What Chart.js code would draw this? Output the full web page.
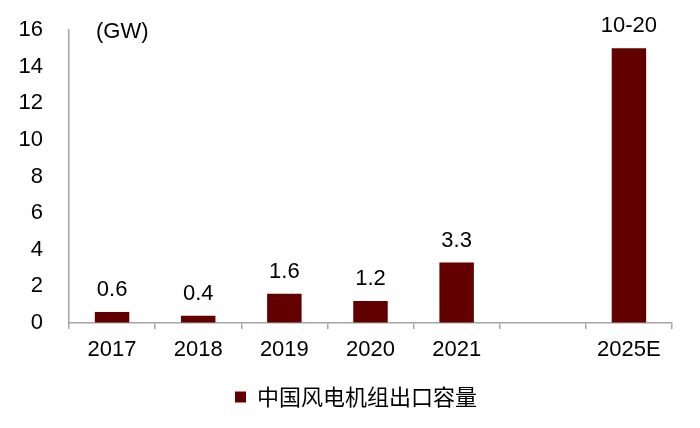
<!DOCTYPE html>
<html><head><meta charset="utf-8">
<script src="https://cdn.jsdelivr.net/npm/chart.js@4/dist/chart.umd.min.js"></script>
<style>html,body{margin:0;padding:0;background:#fff}#wrap{width:700px;height:428px}</style>
</head><body><div id="wrap"><canvas id="c"></canvas></div>
<script>
const categories = ['2017','2018','2019','2020','2021','','2025E'];
const exportGW = [0.6, 0.4, 1.6, 1.2, 3.3, null, 15];
const valueLabels = ['0.6','0.4','1.6','1.2','3.3','','10-20'];
const seriesName = '中国风电机组出口容量';
const unitLabel = '(GW)';
const barColor = '#620000';
const axisColor = '#A6A6A6';
const latin = '"Liberation Sans", Arial, sans-serif';

const extras = {
  id: 'extras',
  afterLayout(chart) {
    const l = chart.legend;
    if (l) { l.left += 20; l.right += 20; }
  },
  afterDatasetsDraw(chart) {
    const ctx = chart.ctx;
    const meta = chart.getDatasetMeta(0);
    ctx.save();
    ctx.fillStyle = '#000';
    ctx.font = '22px ' + latin;
    ctx.textAlign = 'center';
    ctx.textBaseline = 'alphabetic';
    meta.data.forEach((bar, i) => {
      if (exportGW[i] == null) return;
      ctx.fillText(valueLabels[i], bar.x, bar.y - 16);
    });
    ctx.textAlign = 'left';
    ctx.fillText(unitLabel, chart.chartArea.left + 27, 38);
    ctx.restore();
  }
};

new Chart(document.getElementById('c'), {
  type: 'bar',
  data: {
    labels: categories,
    datasets: [{
      label: seriesName,
      data: exportGW,
      backgroundColor: barColor,
      borderWidth: 0,
      barPercentage: 0.4,
      categoryPercentage: 1.0
    }]
  },
  options: {
    responsive: true,
    maintainAspectRatio: false,
    animation: false,
    devicePixelRatio: 1,
    layout: { padding: { top: 30, right: 28, bottom: 10, left: 0 } },
    plugins: {
      tooltip: { enabled: false },
      legend: {
        position: 'bottom',
        labels: {
          boxWidth: 11, boxHeight: 11, padding: 10,
          color: '#000',
          font: { size: 22, family: '"Noto Sans CJK SC", sans-serif' }
        }
      }
    },
    scales: {
      x: {
        grid: { display: true, drawOnChartArea: false, drawTicks: true, tickLength: 6, color: axisColor, lineWidth: 1.5, offset: true },
        border: { display: true, color: axisColor, width: 1.5 },
        ticks: { color: '#000', font: { size: 22, family: latin }, padding: 8, maxRotation: 0, autoSkip: false },
        afterFit(s) { s.height = 53; }
      },
      y: {
        min: 0, max: 16,
        grid: { display: true, drawOnChartArea: false, drawTicks: true, tickLength: 24, tickColor: 'rgba(0,0,0,0)', color: 'rgba(0,0,0,0)' },
        border: { display: true, color: axisColor, width: 1.5 },
        ticks: { stepSize: 2, color: '#000', font: { size: 22, family: latin }, padding: 2 },
        afterFit(s) { s.width = 69; }
      }
    }
  },
  plugins: [extras]
});
</script></body></html>
